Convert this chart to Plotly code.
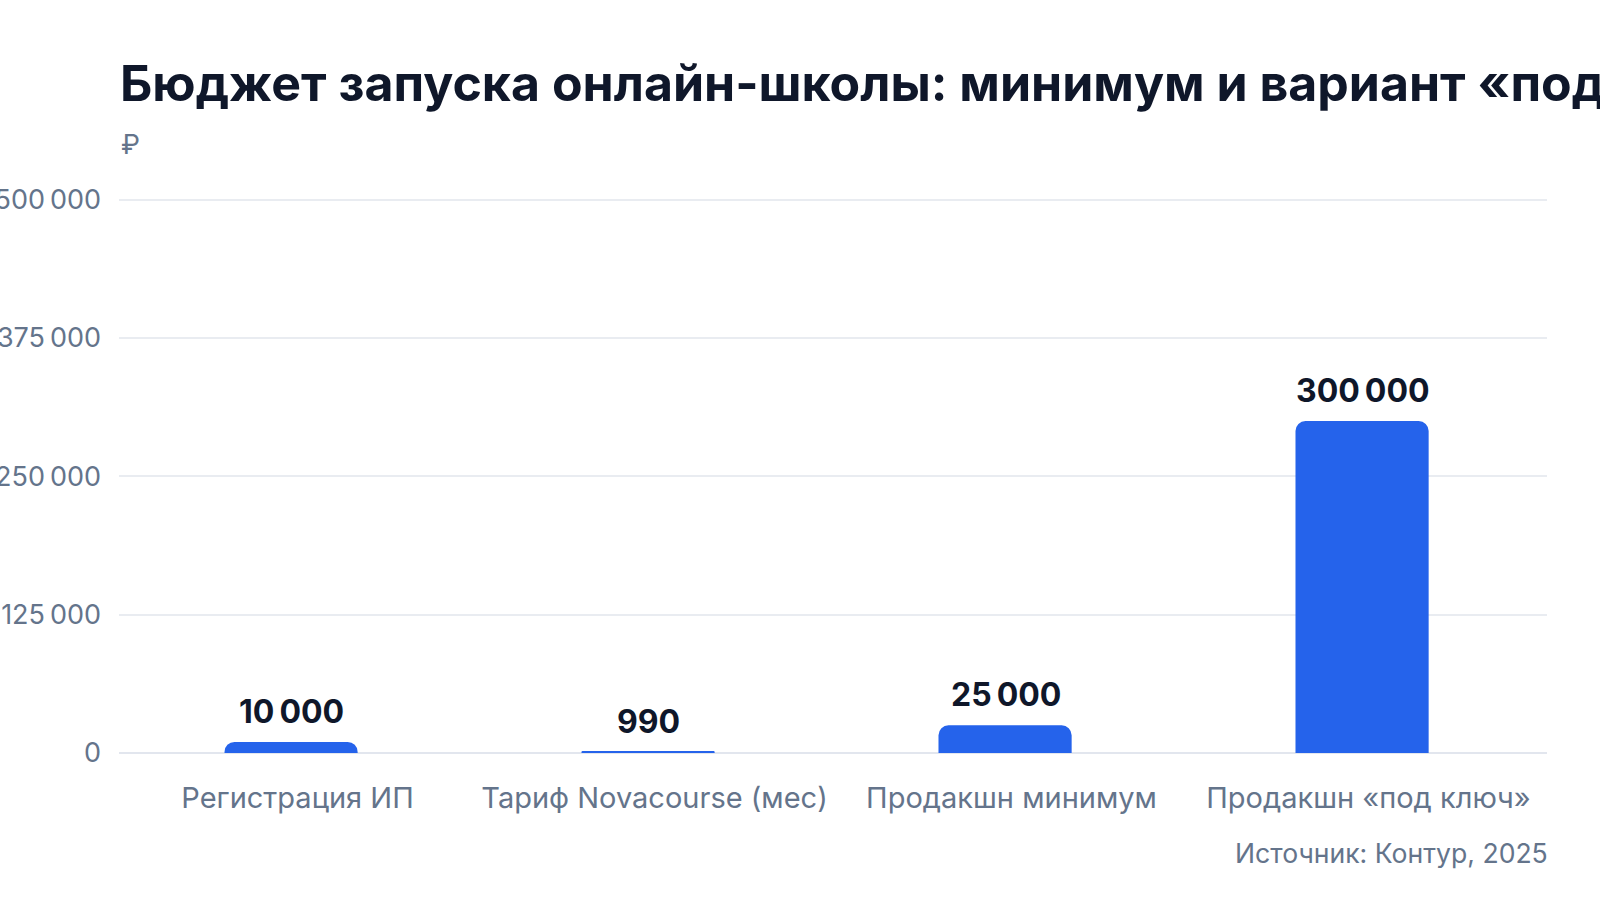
import plotly.graph_objects as go

# данные
categories = ["Регистрация ИП", "Тариф Novacourse (мес)", "Продакшн минимум", "Продакшн «под ключ»"]
values = [10000, 990, 25000, 300000]
y_ticks = [0, 125000, 250000, 375000, 500000]

title_text = "Бюджет запуска онлайн-школы: минимум и вариант «под ключ»"
unit_text = "₽"
source_text = "Источник: Контур, 2025"

BLUE = "#2563eb"
DARK = "#0f172a"
GREY = "#64748b"
FONT = "Inter"

BAR_W = 0.373
SHIFT = -0.018  # столбцы чуть левее подписей категорий


def fmt(v):
    return f"{v:,}".replace(",", "\u202f")


fig = go.Figure()
fig.add_trace(go.Bar(
    x=categories,
    y=values,
    width=BAR_W,
    offset=-BAR_W / 2 + SHIFT,
    marker=dict(color=BLUE, cornerradius=10, line=dict(width=0)),
    hoverinfo="skip",
))

# подписи значений над столбцами
for c, v in zip(categories, values):
    fig.add_annotation(
        x=c, y=v, xref="x", yref="y",
        text=f"<b>{fmt(v)}</b>",
        showarrow=False, yanchor="bottom", yshift=9, xshift=-6,
        font=dict(family=FONT, size=32, color=DARK),
    )

fig.add_annotation(
    x=0, y=1.097, xref="paper", yref="paper",
    text=unit_text, showarrow=False, xanchor="left", yanchor="middle",
    font=dict(family=FONT, size=27, color=GREY),
)
fig.add_annotation(
    x=1, y=-0.181, xref="paper", yref="paper",
    text=source_text, showarrow=False, xanchor="right", yanchor="middle",
    xshift=3,
    font=dict(family=FONT, size=26.6, color=GREY),
)

fig.update_layout(
    width=1600, height=900,
    margin=dict(l=119, r=53, t=198, b=147, autoexpand=False),
    paper_bgcolor="white", plot_bgcolor="white",
    showlegend=False,
    title=dict(
        text=f"<b>{title_text}</b>",
        x=120 / 1600, xanchor="left", xref="container",
        y=1 - 83 / 900, yanchor="middle", yref="container",
        font=dict(family=FONT, size=50, color=DARK),
    ),
    font=dict(family=FONT, color=GREY),
)
fig.update_xaxes(
    showgrid=False, showline=False, zeroline=False, ticks="",
    tickfont=dict(family=FONT, size=29, color=GREY),
    ticklabelstandoff=25, automargin=False,
    range=[-0.5, 3.5],
)
fig.update_yaxes(
    range=[0, 501500], tickvals=y_ticks,
    ticktext=[fmt(t) for t in y_ticks],
    showgrid=True, gridcolor="#e9ecf1", gridwidth=1.5,
    zeroline=True, zerolinecolor="#e2e6ee", zerolinewidth=1.5,
    showline=False, ticks="", ticklabelstandoff=17,
    tickfont=dict(family=FONT, size=27, color=GREY),
    automargin=False,
)

# убрать отступ body, чтобы фигура начиналась в (0, 0)
fig.write_html(
    "out.html",
    config={"displayModeBar": False},
    post_script="document.body.style.margin='0';",
)
